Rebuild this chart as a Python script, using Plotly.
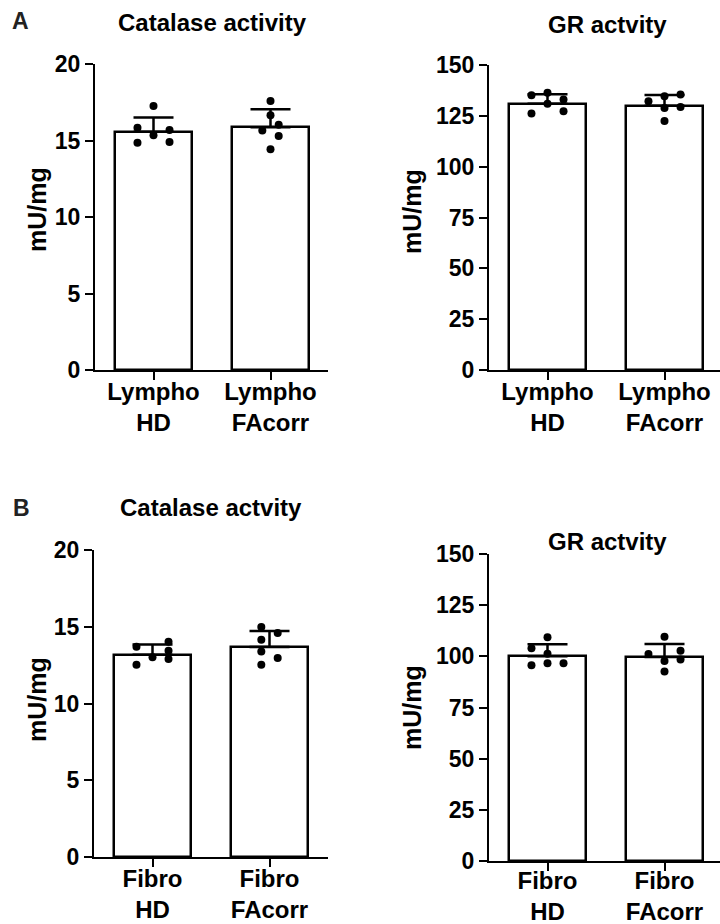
import plotly.graph_objects as go

# ---- data -------------------------------------------------------------
lympho_groups = ["Lympho<br>HD", "Lympho<br>FAcorr"]
fibro_groups = ["Fibro<br>HD", "Fibro<br>FAcorr"]

# Lymphocytes: catalase (mU/mg)
lympho_cat_mean = [15.57, 15.86]
lympho_cat_sd = [0.93, 1.18]
lympho_cat_hd = [17.25, 15.84, 15.69, 15.34, 14.86, 14.90]
lympho_cat_fa = [17.58, 16.65, 16.03, 15.66, 15.29, 14.42]

# Lymphocytes: glutathione reductase (mU/mg)
lympho_gr_mean = [131.0, 129.9]
lympho_gr_sd = [4.6, 5.4]
lympho_gr_hd = [135.1, 136.4, 131.0, 133.0, 126.1, 127.3]
lympho_gr_fa = [132.2, 134.6, 135.5, 128.8, 129.4, 122.4]

# Fibroblasts: catalase (mU/mg)
fibro_cat_mean = [13.18, 13.68]
fibro_cat_sd = [0.67, 1.04]
fibro_cat_hd = [13.70, 14.03, 13.44, 13.01, 12.90, 12.53]
fibro_cat_fa = [14.98, 14.59, 14.16, 13.38, 12.97, 12.53]

# Fibroblasts: glutathione reductase (mU/mg)
fibro_gr_mean = [100.0, 99.7]
fibro_gr_sd = [5.9, 6.3]
fibro_gr_hd = [109.3, 103.9, 101.3, 95.6, 96.6, 96.6]
fibro_gr_fa = [109.6, 101.1, 102.7, 98.5, 97.7, 92.6]

# horizontal spread of the scatter dots (fraction of one category step)
S = 0.137
H = 0.07
spread = {
    "lc_hd": [0, -S, S, 0, -S, S],
    "lc_fa": [0, 0, H, -H, H, 0],
    "lg_hd": [-S, 0, 0, S, -S, S],
    "lg_fa": [-S, 0, S, 0, S, 0],
    "fc_hd": [-S, S, S, 0, S, -S],
    "fc_fa": [-H, H, -H, -H, H, -H],
    "fg_hd": [0, -S, 0, -S, 0, S],
    "fg_fa": [0, -S, S, S, 0, 0],
}

W, Hgt = 720, 924
FONT = "Liberation Sans, Arial, sans-serif"

fig = go.Figure()

panels = [
    # (axis suffix, labels, mean, sd, hd pts, fa pts, spread keys, ymax, dtick,
    #  x px, y px, label standoff)
    ("", lympho_groups, lympho_cat_mean, lympho_cat_sd, lympho_cat_hd, lympho_cat_fa,
     ("lc_hd", "lc_fa"), 20, 5, (95, 328), (370, 64), -9),
    ("2", lympho_groups, lympho_gr_mean, lympho_gr_sd, lympho_gr_hd, lympho_gr_fa,
     ("lg_hd", "lg_fa"), 150, 25, (489, 720), (370, 65), -9),
    ("3", fibro_groups, fibro_cat_mean, fibro_cat_sd, fibro_cat_hd, fibro_cat_fa,
     ("fc_hd", "fc_fa"), 20, 5, (94, 328), (857, 550), -9),
    ("4", fibro_groups, fibro_gr_mean, fibro_gr_sd, fibro_gr_hd, fibro_gr_fa,
     ("fg_hd", "fg_fa"), 150, 25, (489, 720), (861, 554), -11),
]

layout_axes = {}
for suffix, labels, mean, sd, hd, fa, keys, ymax, dtick, xpx, ypx, standoff in panels:
    xa = "x" + suffix
    ya = "y" + suffix
    fig.add_trace(go.Bar(
        x=[0, 1], y=mean, width=0.65,
        marker=dict(color="white", line=dict(color="black", width=2.5)),
        error_y=dict(type="data", array=sd, arrayminus=[0, 0], symmetric=False,
                     color="black", thickness=2.5, width=20),
        xaxis=xa, yaxis=ya, showlegend=False, hoverinfo="skip",
    ))
    for gi, (pts, key) in enumerate(zip((hd, fa), keys)):
        fig.add_trace(go.Scatter(
            x=[gi + d for d in spread[key]], y=pts, mode="markers",
            marker=dict(color="black", size=8),
            xaxis=xa, yaxis=ya, showlegend=False, hoverinfo="skip",
        ))
    span = (xpx[1] - xpx[0]) / 117.0
    layout_axes["xaxis" + suffix] = dict(
        domain=[xpx[0] / W, xpx[1] / W], range=[-0.5, -0.5 + span],
        tickvals=[0, 1], ticktext=labels, anchor=ya, automargin=False,
        showline=True, linecolor="black", linewidth=2,
        ticks="outside", ticklen=8, tickwidth=2, tickcolor="black",
        ticklabelstandoff=standoff,
        showgrid=False, zeroline=False,
        tickfont=dict(family=FONT, size=24, color="black", weight="bold"),
    )
    layout_axes["yaxis" + suffix] = dict(
        domain=[1 - ypx[0] / Hgt, 1 - ypx[1] / Hgt], range=[0, ymax],
        dtick=dtick, tick0=0, anchor=xa, automargin=False,
        showline=True, linecolor="black", linewidth=2,
        ticks="outside", ticklen=8, tickwidth=2, tickcolor="black",
        showgrid=False, zeroline=False,
        tickfont=dict(family=FONT, size=23, color="black", weight="bold"),
    )


def note(text, px, py, size=24, angle=0, color="black"):
    return dict(text=text, x=px / W, y=1 - py / Hgt, xref="paper", yref="paper",
                xanchor="center", yanchor="middle", showarrow=False, textangle=angle,
                font=dict(family=FONT, size=size, color=color, weight="bold"))


annotations = [
    note("A", 20, 21, 23, color="#222"),
    note("B", 21, 508, 23, color="#222"),
    note("Catalase activity", 212, 22),
    note("GR actvity", 607, 25),
    note("Catalase actvity", 211, 507),
    note("GR actvity", 607, 541),
    note("mU/mg", 37, 210, 25, -90),
    note("mU/mg", 412, 212, 25, -90),
    note("mU/mg", 37, 700, 25, -90),
    note("mU/mg", 412, 708, 25, -90),
]

fig.update_layout(
    width=W, height=Hgt,
    margin=dict(l=0, r=0, t=0, b=0, autoexpand=False),
    paper_bgcolor="white", plot_bgcolor="white",
    annotations=annotations,
    bargap=0,
    **layout_axes,
)

fig.write_html("out.html")
